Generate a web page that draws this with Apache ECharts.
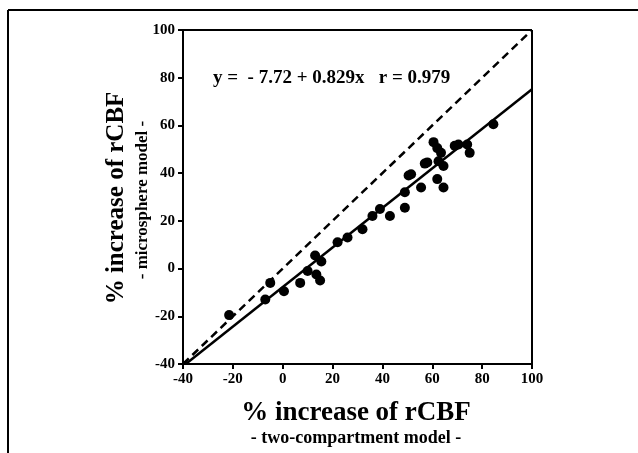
<!DOCTYPE html>
<html>
<head>
<meta charset="utf-8">
<script src="https://cdn.jsdelivr.net/npm/echarts@6/dist/echarts.min.js"></script>
<style>
  html, body { margin: 0; padding: 0; background: #fff; }
  #main { width: 638px; height: 453px; }
</style>
</head>
<body>
<div id="main"></div>
<script>
// data: two-compartment (x) vs microsphere (y)
var xTwoComp = [-21.5, -5, -7, 0.5, 7, 10, 13, 15.5, 13.5, 15, 22, 26, 32, 36, 39, 43, 49, 49, 50.5, 51.5, 55.5, 57, 58, 60.5, 62, 63.5, 62.5, 64.5, 62, 64.5, 69, 70.5, 74, 75, 84.5];
var yMicro   = [-19.5, -6, -13, -9.5, -6, -1, 5.5, 3, -2.5, -5, 11, 13, 16.5, 22, 25, 22, 25.5, 32, 39, 39.5, 34, 44, 44.5, 53, 50.5, 48.5, 45, 43, 37.5, 34, 51.5, 52, 52, 48.5, 60.5];
// regression from the figure text
var intercept = -7.72;
var slope = 0.829;
var rValue = 0.979;
var fitRange = [-38.9, 100];
var identityRange = [-40, 100];

var points = [];
for (var i = 0; i < xTwoComp.length; i++) {
    points.push([xTwoComp[i], yMicro[i]]);
}
var fitLine = fitRange.map(function (x) { return [x, intercept + slope * x]; });
var idLine = identityRange.map(function (x) { return [x, x]; });

var serif = '"Liberation Serif", "DejaVu Serif", serif';

var myChart = echarts.init(document.getElementById('main'));
var option = {
    animation: false,
    backgroundColor: '#fff',
    grid: { left: 183, right: 106, top: 30, bottom: 89 },
    xAxis: {
        type: 'value',
        min: -40, max: 100, interval: 20,
        splitLine: { show: false },
        axisLine: { onZero: false, lineStyle: { color: '#000', width: 2 } },
        axisTick: { show: true, length: 5, lineStyle: { color: '#000', width: 2 } },
        axisLabel: { color: '#000', fontFamily: serif, fontWeight: 'bold', fontSize: 15, margin: 8 }
    },
    yAxis: {
        type: 'value',
        min: -40, max: 100, interval: 20,
        splitLine: { show: false },
        axisLine: { onZero: false, lineStyle: { color: '#000', width: 2 } },
        axisTick: { show: true, length: 5, lineStyle: { color: '#000', width: 2 } },
        axisLabel: { color: '#000', fontFamily: serif, fontWeight: 'bold', fontSize: 15, margin: 8 }
    },
    graphic: [
        // outer frame (top and left only)
        { type: 'line', shape: { x1: 8, y1: 10, x2: 638, y2: 10 }, style: { stroke: '#000', lineWidth: 2 } },
        { type: 'line', shape: { x1: 8, y1: 10, x2: 8, y2: 453 }, style: { stroke: '#000', lineWidth: 2 } },
        // top and right borders of plot box
        { type: 'line', shape: { x1: 183, y1: 30, x2: 532, y2: 30 }, style: { stroke: '#000', lineWidth: 2 } },
        { type: 'line', shape: { x1: 532, y1: 30, x2: 532, y2: 364 }, style: { stroke: '#000', lineWidth: 2 } },
        {
            type: 'text', x: 213, y: 78,
            style: { text: 'y =  - ' + Math.abs(intercept).toFixed(2) + ' + ' + slope.toFixed(3) + 'x   r = ' + rValue.toFixed(3),
                     fill: '#000', font: 'bold 19px ' + serif, verticalAlign: 'middle' }
        },
        {
            type: 'text', x: 356, y: 413,
            style: { text: '% increase of rCBF', fill: '#000', font: 'bold 27px ' + serif, align: 'center', verticalAlign: 'middle' }
        },
        {
            type: 'text', x: 356, y: 438,
            style: { text: '- two-compartment model -', fill: '#000', font: 'bold 18px ' + serif, align: 'center', verticalAlign: 'middle' }
        },
        {
            type: 'text', x: 117, y: 198, rotation: Math.PI / 2,
            style: { text: '% increase of rCBF', fill: '#000', font: 'bold 25px ' + serif, align: 'center', verticalAlign: 'middle' }
        },
        {
            type: 'text', x: 143, y: 200, rotation: Math.PI / 2,
            style: { text: '- microsphere model -', fill: '#000', font: 'bold 17px ' + serif, align: 'center', verticalAlign: 'middle' }
        }
    ],
    series: [
        {
            type: 'line', data: idLine, symbol: 'none',
            lineStyle: { color: '#000', width: 2.5, type: [8, 5] }
        },
        {
            type: 'line', data: fitLine, symbol: 'none',
            lineStyle: { color: '#000', width: 2.5 }
        },
        {
            type: 'scatter', data: points, symbolSize: 10,
            itemStyle: { color: '#000', opacity: 1 }
        }
    ]
};
myChart.setOption(option);
</script>
</body>
</html>
